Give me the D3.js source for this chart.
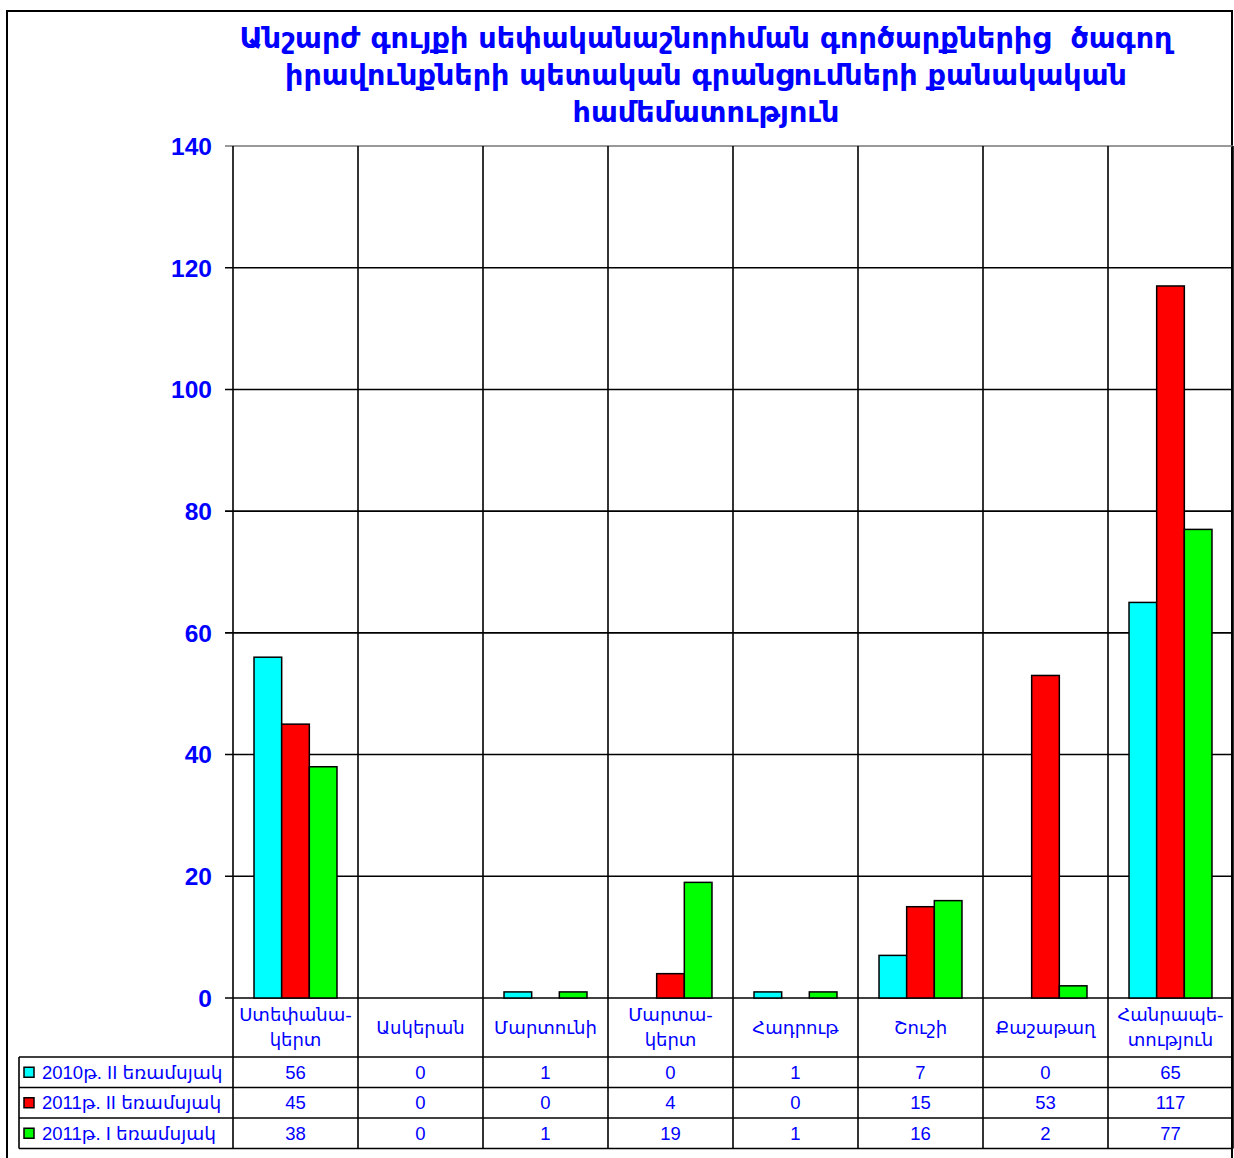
<!DOCTYPE html>
<html>
<head>
<meta charset="utf-8">
<script src="https://cdn.jsdelivr.net/npm/d3@7"></script>
<style>
  body { margin: 0; background: #fff; }
  svg text { fill: #0000ff; }
</style>
</head>
<body>
<svg id="chart" width="1234" height="1158"></svg>
<script>
// chart data
const titleLines = [
  "Անշարժ գույքի սեփականաշնորհման գործարքներից  ծագող",
  "իրավունքների պետական գրանցումների քանակական",
  "համեմատություն"
];
const categories = [
  "Ստեփանա-\nկերտ", "Ասկերան", "Մարտունի", "Մարտա-\nկերտ",
  "Հադրութ", "Շուշի", "Քաշաթաղ", "Հանրապե-\nտություն"
];
const seriesNames = ["2010թ. II եռամսյակ", "2011թ. II եռամսյակ", "2011թ. I եռամսյակ"];
const seriesColors = ["#00ffff", "#ff0000", "#00ff00"];
const q2_2010 = [56, 0, 1, 0, 1, 7, 0, 65];
const q2_2011 = [45, 0, 0, 4, 0, 15, 53, 117];
const q1_2011 = [38, 0, 1, 19, 1, 16, 2, 77];
const yTicks = [0, 20, 40, 60, 80, 100, 120, 140];

const seriesValues = [q2_2010, q2_2011, q1_2011];

const svg = d3.select('#chart');
const plotL = 233, plotR = 1233, plotT = 146, plotB = 998;
const rowH = 30.5, headerBottom = 1057;
const tableLeft = 19;

const x = d3.scaleBand().domain(d3.range(categories.length)).range([plotL, plotR]);
const xs = d3.scaleBand().domain(d3.range(seriesNames.length))
    .range([0, x.bandwidth()]).paddingOuter(0.76).paddingInner(0);
const y = d3.scaleLinear().domain([0, 140]).range([plotB, plotT]);

const armFont = "'DejaVu Sans', sans-serif";
const numFont = "'Liberation Sans', Arial, 'DejaVu Sans', sans-serif";

// outer frame
svg.append('rect')
    .attr('x', 7).attr('y', 11).attr('width', 1225).attr('height', 1160)
    .attr('fill', 'none').attr('stroke', '#000').attr('stroke-width', 2);

// title (keep the double space of the original)
svg.append('g').selectAll('text')
    .data(titleLines)
  .enter().append('text')
    .attr('x', 706)
    .attr('y', (d, i) => 48 + i * 37)
    .attr('text-anchor', 'middle')
    .style('white-space', 'pre')
    .style('font-family', armFont)
    .style('font-weight', 'bold')
    .style('font-size', '28.6px')
    .text(d => d);

// horizontal grid
svg.append('g').selectAll('line')
    .data(yTicks)
  .enter().append('line')
    .attr('x1', plotL - 8).attr('x2', plotR)
    .attr('y1', d => y(d)).attr('y2', d => y(d))
    .attr('stroke', d => d === 140 ? '#777' : '#000')
    .attr('stroke-width', 1.6);

// vertical grid, running down through the table
svg.append('g').selectAll('line')
    .data(d3.range(categories.length + 1))
  .enter().append('line')
    .attr('x1', d => d < categories.length ? x(d) : plotR)
    .attr('x2', d => d < categories.length ? x(d) : plotR)
    .attr('y1', plotT)
    .attr('y2', headerBottom + rowH * 3)
    .attr('stroke', '#000')
    .attr('stroke-width', 1.6);

// y tick labels
svg.append('g').selectAll('text')
    .data(yTicks)
  .enter().append('text')
    .attr('x', 212)
    .attr('y', d => y(d))
    .attr('dy', '0.36em')
    .attr('text-anchor', 'end')
    .style('font-family', numFont)
    .style('font-weight', 'bold')
    .style('font-size', '24.5px')
    .text(d => d);

// bars
seriesValues.forEach((vals, s) => {
  svg.append('g').selectAll('rect')
      .data(vals.map((v, i) => ({v, i})).filter(d => d.v > 0))
    .enter().append('rect')
      .attr('x', d => x(d.i) + xs(s))
      .attr('y', d => y(d.v))
      .attr('width', xs.bandwidth())
      .attr('height', d => plotB - y(d.v))
      .attr('fill', seriesColors[s])
      .attr('stroke', '#000')
      .attr('stroke-width', 1.5);
});

// table rows
svg.append('g').selectAll('line')
    .data(d3.range(4))
  .enter().append('line')
    .attr('x1', tableLeft).attr('x2', plotR)
    .attr('y1', d => headerBottom + d * rowH)
    .attr('y2', d => headerBottom + d * rowH)
    .attr('stroke', '#000').attr('stroke-width', 1.6);
svg.append('line')
    .attr('x1', tableLeft).attr('x2', tableLeft)
    .attr('y1', headerBottom).attr('y2', headerBottom + rowH * 3)
    .attr('stroke', '#000').attr('stroke-width', 1.6);

// category header
const head = svg.append('g').selectAll('text')
    .data(categories)
  .enter().append('text')
    .attr('text-anchor', 'middle')
    .style('font-family', armFont)
    .style('font-size', '18px');
head.each(function (d, i) {
  const lines = d.split('\n');
  const cy = (plotB + headerBottom) / 2;
  lines.forEach((ln, k) => {
    d3.select(this).append('tspan')
      .attr('x', x(i) + x.bandwidth() / 2)
      .attr('y', cy + (k - (lines.length - 1) / 2) * 25)
      .attr('dy', '0.35em')
      .text(ln);
  });
});

// legend keys + series names
seriesNames.forEach((name, s) => {
  const cy = headerBottom + rowH * s + rowH / 2;
  svg.append('rect')
      .attr('x', 24).attr('y', cy - 5)
      .attr('width', 10).attr('height', 10)
      .attr('fill', seriesColors[s])
      .attr('stroke', '#000').attr('stroke-width', 1.5);
  svg.append('text')
      .attr('x', 42).attr('y', cy)
      .attr('dy', '0.36em')
      .style('font-family', numFont)
      .style('font-size', '18.5px')
      .text(name);
  svg.append('g').selectAll('text')
      .data(seriesValues[s])
    .enter().append('text')
      .attr('x', (d, i) => x(i) + x.bandwidth() / 2)
      .attr('y', cy)
      .attr('dy', '0.36em')
      .attr('text-anchor', 'middle')
      .style('font-family', numFont)
      .style('font-size', '18.5px')
      .text(d => d);
});
</script>
</body>
</html>
